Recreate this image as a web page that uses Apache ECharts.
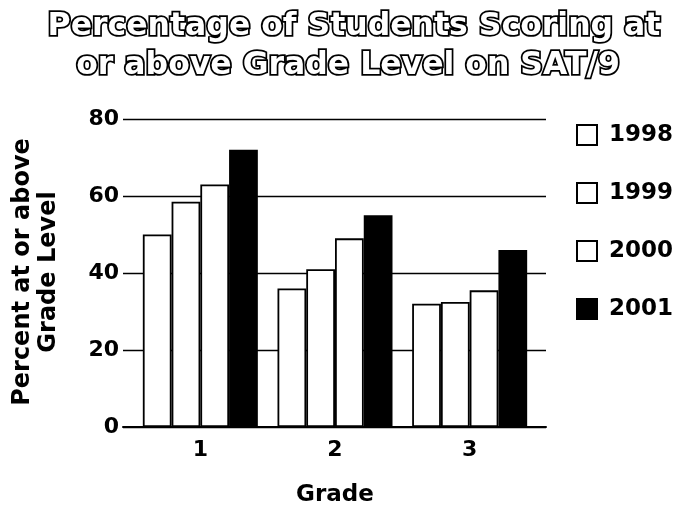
<!DOCTYPE html>
<html>
<head>
<meta charset="utf-8">
<script src="https://cdn.jsdelivr.net/npm/echarts@6/dist/echarts.min.js"></script>
<style>
  html, body { margin: 0; padding: 0; background: #fff; }
  #chart { width: 677px; height: 505px; }
</style>
</head>
<body>
<div id="chart"></div>
<script>
// Grade categories and percent of students at or above grade level per year
const grades = ['1', '2', '3'];
const years = ['1998', '1999', '2000', '2001'];
const pct1998 = [50, 36, 32];
const pct1999 = [58.5, 41, 32.5];
const pct2000 = [63, 49, 35.5];
const pct2001 = [72, 55, 46];
const yTicks = [0, 20, 40, 60, 80];
const titleLines = ['Percentage of Students Scoring at', 'or above Grade Level on SAT/9'];

const FONT = 'DejaVu Sans';
const seriesValues = [pct1998, pct1999, pct2000, pct2001];
const fills = ['#ffffff', '#ffffff', '#ffffff', '#000000'];

// hollow, outlined lettering for the heading
const titleStyle = {
  fontFamily: FONT,
  fontWeight: 'bold',
  fontSize: 31.5,
  lineHeight: 39,
  color: '#ffffff',
  textBorderColor: '#000000',
  textBorderWidth: 3.5
};

const chart = echarts.init(document.getElementById('chart'), null, { renderer: 'canvas' });

chart.setOption({
  animation: false,
  backgroundColor: '#ffffff',
  title: [
    { text: titleLines[0], left: 354, textAlign: 'center', top: 7, padding: 0, textStyle: titleStyle },
    { text: titleLines[1], left: 348, textAlign: 'center', top: 46, padding: 0, textStyle: titleStyle }
  ],
  legend: {
    orient: 'vertical',
    left: 571,
    top: 118,
    itemWidth: 20,
    itemHeight: 20,
    itemGap: 34,
    icon: 'rect',
    data: years,
    itemStyle: { borderColor: '#000', borderWidth: 2 },
    textStyle: {
      fontFamily: FONT,
      fontWeight: 'bold',
      fontSize: 23,
      lineHeight: 24,
      color: '#000',
      padding: [0, 0, 0, 7]
    }
  },
  grid: [
    // frame for the value scale and the baseline
    { left: 123, right: 131, top: 119, bottom: 78, outerBoundsMode: 'none', containLabel: false },
    // band where the grade groups sit
    { left: 133, right: 140, top: 119, bottom: 78, outerBoundsMode: 'none', containLabel: false }
  ],
  xAxis: [
    {
      type: 'value', gridIndex: 0, min: 0, max: 1,
      axisLine: { show: true, lineStyle: { color: '#000', width: 2 } },
      axisTick: { show: false }, axisLabel: { show: false }, splitLine: { show: false }
    },
    {
      type: 'category', gridIndex: 1, data: grades,
      axisLine: { show: false }, axisTick: { show: false },
      axisLabel: {
        margin: 12, fontFamily: FONT, fontWeight: 'bold', fontSize: 22, color: '#000'
      },
      name: 'Grade', nameLocation: 'middle', nameGap: 57,
      nameTextStyle: { fontFamily: FONT, fontWeight: 'bold', fontSize: 23, color: '#000' }
    }
  ],
  yAxis: [
    {
      type: 'value', gridIndex: 0, min: yTicks[0], max: yTicks[yTicks.length - 1], interval: 20,
      axisLine: { show: false }, axisTick: { show: false },
      axisLabel: { margin: 4, fontFamily: FONT, fontWeight: 'bold', fontSize: 22, color: '#000' },
      splitLine: { show: true, lineStyle: { color: '#000', width: 1.4 } }
    },
    {
      type: 'value', gridIndex: 1, min: yTicks[0], max: yTicks[yTicks.length - 1], show: false
    }
  ],
  graphic: [
    {
      type: 'text',
      x: 36, y: 272,
      rotation: Math.PI / 2,
      style: {
        text: 'Percent at or above\nGrade Level',
        fontFamily: FONT, fontWeight: 'bold', fontSize: 24, lineHeight: 26,
        fill: '#000', align: 'center', verticalAlign: 'middle'
      }
    }
  ],
  series: years.map((y, i) => ({
    name: y,
    type: 'bar',
    xAxisIndex: 1,
    yAxisIndex: 1,
    data: seriesValues[i],
    barGap: '0%',
    barCategoryGap: '14.6%',
    itemStyle: { color: fills[i], borderColor: '#000', borderWidth: 1.8 }
  }))
});
</script>
</body>
</html>
